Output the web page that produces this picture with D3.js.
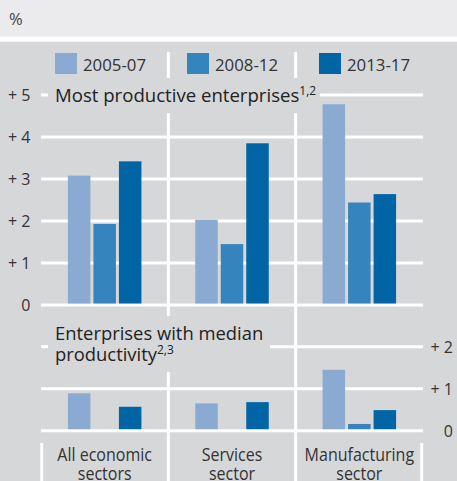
<!DOCTYPE html>
<html><head><meta charset="utf-8">
<script src="https://cdn.jsdelivr.net/npm/d3@7"></script>
<style>
html,body{margin:0;padding:0;background:#fff;}
svg{display:block;font-family:"Open Sans",sans-serif;}
</style></head><body>
<svg id="c" width="457" height="481"></svg>
<script>
const categories = [["All economic","sectors"],["Services","sector"],["Manufacturing","sector"]];
const seriesNames = ["2005-07","2008-12","2013-17"];
const colors = ["#8aaad2","#3684bd","#0064a5"];
const topValues2005 = [3.08, 2.03, 4.78];
const topValues2008 = [1.93, 1.45, 2.44];
const topValues2013 = [3.42, 3.85, 2.64];
const medValues2005 = [0.89, 0.65, 1.45];
const medValues2008 = [0.02, 0.03, 0.16];
const medValues2013 = [0.57, 0.68, 0.49];
const topTicks = [0,1,2,3,4,5];
const topTickLabels = ["0","+ 1","+ 2","+ 3","+ 4","+ 5"];
const medTicks = [0,1,2];
const medTickLabels = ["0","+ 1","+ 2"];

const svg = d3.select("#c");
const W = 457, H = 481;
const txt = "#333";

// backgrounds
svg.append("rect").attr("x",0).attr("y",0).attr("width",W).attr("height",36.7).attr("fill","#ebebed");
svg.append("rect").attr("x",0).attr("y",41.7).attr("width",W).attr("height",H-41.7).attr("fill","#d6d7d9");
svg.append("text").attr("x",9).attr("y",24.5).attr("font-size",16.5).attr("fill","#444").text("%");

const catKeys = categories.map(d=>d.join(" "));
const x = d3.scaleBand().domain(catKeys).range([41,423]).paddingInner(0).paddingOuter(0);
const xs = d3.scaleBand().domain(seriesNames).range([0,73.5]).paddingInner(0.118).paddingOuter(0);
const yTop = d3.scaleLinear().domain([0,5]).range([305,95]);
const yMed = d3.scaleLinear().domain([0,2]).range([430.7,346.7]);

const white = "#ffffff";
function hline(y,x1,x2){svg.append("line").attr("x1",x1).attr("x2",x2).attr("y1",y).attr("y2",y).attr("stroke",white).attr("stroke-width",3);}
function vline(x0,y1,y2){svg.append("line").attr("x1",x0).attr("x2",x0).attr("y1",y1).attr("y2",y2).attr("stroke",white).attr("stroke-width",3);}

// legend
seriesNames.forEach((s,i)=>{
  const lx = [55,187,319][i];
  svg.append("rect").attr("x",lx).attr("y",53).attr("width",22).attr("height",21).attr("fill",colors[i]);
  svg.append("text").attr("x",lx+28).attr("y",70.8).attr("font-size",16.8).attr("fill",txt).text(s);
});
const sep1 = x.range()[0]+x.step(), sep2 = x.range()[0]+2*x.step();
vline(sep1,52,78);
vline(sep2,52,78);

// column separators
vline(sep1,113,316);
vline(sep1,372,H);
vline(sep2,113,H);
vline(41.7,443,H);
vline(421.7,443,H);

// top gridlines
topTicks.forEach(t=>{
  if(t===5){hline(yTop(t),41,48);hline(yTop(t),320,423);}
  else hline(yTop(t),41,423);
});
svg.selectAll(".tl").data(topTicks).enter().append("text")
  .attr("x",30.5).attr("y",d=>yTop(d)+5.8).attr("text-anchor","end").attr("font-size",16).attr("fill",txt)
  .text((d,i)=>topTickLabels[i]);

// med gridlines
medTicks.forEach(t=>{
  if(t===2){hline(yMed(t),41,48);hline(yMed(t),270,423);}
  else hline(yMed(t),41,423);
});
svg.selectAll(".ml").data(medTicks).enter().append("text")
  .attr("x",453).attr("y",d=>yMed(d)+5.8).attr("text-anchor","end").attr("font-size",16).attr("fill",txt)
  .text((d,i)=>medTickLabels[i]);

// bars
function drawBars(arrs,y){
  arrs.forEach((vals,si)=>{
    svg.append("g").selectAll("rect").data(vals).enter().append("rect")
      .attr("x",(d,i)=>x(catKeys[i])+x.bandwidth()/2-36.75+xs(seriesNames[si]))
      .attr("width",xs.bandwidth())
      .attr("y",d=>y(d))
      .attr("height",d=>y(0)-y(d)-1.5)
      .attr("fill",colors[si]);
  });
}
drawBars([topValues2005,topValues2008,topValues2013],yTop);
drawBars([medValues2005,medValues2008,medValues2013],yMed);

// titles
const t1 = svg.append("text").attr("x",55).attr("y",102).attr("font-size",18.6).attr("fill","#222");
t1.append("tspan").text("Most productive enterprises");
t1.append("tspan").attr("dy",-7.5).attr("font-size",12).text("1,2");
const t2 = svg.append("text").attr("x",55).attr("y",339.5).attr("font-size",18.4).attr("fill","#222");
t2.append("tspan").text("Enterprises with median");
const t3 = svg.append("text").attr("x",55).attr("y",361).attr("font-size",18.4).attr("fill","#222");
t3.append("tspan").text("productivity");
t3.append("tspan").attr("dy",-7.5).attr("font-size",12).text("2,3");

// category labels
categories.forEach((c,i)=>{
  const cx = x(catKeys[i])+x.bandwidth()/2;
  c.forEach((line,j)=>{
    const t = svg.append("text").attr("x",cx).attr("y",460.7+j*19.5)
      .attr("font-size",18.2).attr("fill",txt).text(line);
    const len = t.node().getComputedTextLength()*0.88;
    t.attr("x",cx-len/2).attr("textLength",len).attr("lengthAdjust","spacingAndGlyphs");
  });
});
</script></body></html>
